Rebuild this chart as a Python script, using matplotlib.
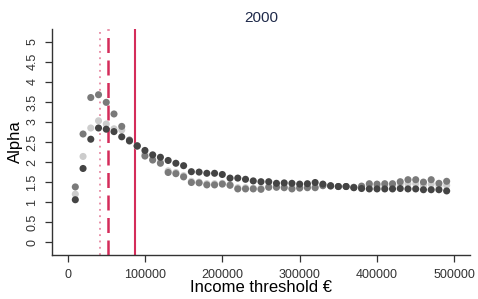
import matplotlib
matplotlib.use("Agg")
import matplotlib.pyplot as plt

plt.rcParams['font.family'] = ['Liberation Sans', 'DejaVu Sans']

# income thresholds (EUR)
thresholds = [10000, 20000, 30000, 40000, 50000, 60000, 70000, 80000, 90000, 100000,
              110000, 120000, 130000, 140000, 150000, 160000, 170000, 180000, 190000, 200000,
              210000, 220000, 230000, 240000, 250000, 260000, 270000, 280000, 290000, 300000,
              310000, 320000, 330000, 340000, 350000, 360000, 370000, 380000, 390000, 400000,
              410000, 420000, 430000, 440000, 450000, 460000, 470000, 480000, 490000]

alpha_light = [1.20, 2.14, 2.85, 3.03, 2.95, 2.83, 2.80, 2.52, 2.39, 2.20,
               2.08, 2.00, 1.78, 1.74, 1.66, 1.52, 1.50, 1.46, 1.46, 1.47,
               1.44, 1.36, 1.36, 1.35, 1.35, 1.39, 1.39, 1.38, 1.36, 1.37,
               1.38, 1.38, 1.42, 1.41, 1.39, 1.39, 1.37, 1.38, 1.41, 1.40,
               1.41, 1.41, 1.44, 1.46, 1.46, 1.42, 1.45, 1.40, 1.42]

alpha_medium = [1.38, 2.70, 3.61, 3.68, 3.49, 3.20, 2.89, 2.55, 2.41, 2.15,
                2.05, 1.97, 1.74, 1.71, 1.63, 1.49, 1.48, 1.43, 1.43, 1.45,
                1.42, 1.33, 1.33, 1.33, 1.32, 1.37, 1.37, 1.36, 1.33, 1.35,
                1.36, 1.36, 1.41, 1.40, 1.39, 1.39, 1.37, 1.40, 1.46, 1.45,
                1.46, 1.46, 1.51, 1.56, 1.56, 1.50, 1.56, 1.47, 1.52]

alpha_dark = [1.06, 1.84, 2.57, 2.85, 2.82, 2.76, 2.63, 2.53, 2.40, 2.29,
              2.18, 2.12, 2.04, 1.97, 1.91, 1.76, 1.75, 1.72, 1.72, 1.69,
              1.60, 1.60, 1.57, 1.53, 1.51, 1.51, 1.47, 1.48, 1.47, 1.45,
              1.46, 1.49, 1.45, 1.41, 1.39, 1.39, 1.36, 1.34, 1.33, 1.33,
              1.33, 1.33, 1.34, 1.33, 1.33, 1.31, 1.31, 1.31, 1.28]

vlines = [41600, 51700, 86900]
vline_styles = [(0, (1, 2.5)), (0, (6, 3)), '-']
vline_colors = ['#e88aa4', '#d42c5a', '#d42c5a']
vline_widths = [1.3, 1.8, 1.5]

x_ticks = [0, 100000, 200000, 300000, 400000, 500000]
y_ticks = [0, 0.5, 1, 1.5, 2, 2.5, 3, 3.5, 4, 4.5, 5]
y_labels = ['0', '0.5', '1', '1.5', '2', '2.5', '3', '3.5', '4', '4.5', '5']

fig = plt.figure(figsize=(4.78, 2.99), dpi=100)
ax = fig.add_axes([0.109, 0.147, 0.874, 0.756])

for xv, ls, c, lw in zip(vlines, vline_styles, vline_colors, vline_widths):
    ax.axvline(xv, linestyle=ls, color=c, linewidth=lw, zorder=1)

ax.scatter(thresholds, alpha_light, s=26, color='#cccccc', edgecolors='none', zorder=2)
ax.scatter(thresholds, alpha_medium, s=26, color='#7a7a7a', edgecolors='none', zorder=3)
ax.scatter(thresholds, alpha_dark, s=26, color='#444444', edgecolors='none', zorder=4)

ax.set_xlim(-20000, 520000)
ax.set_ylim(-0.32, 5.32)
ax.set_xticks(x_ticks)
ax.set_xticklabels([str(t) for t in x_ticks])
ax.set_yticks(y_ticks)
ax.set_yticklabels(y_labels, rotation=90, va='center')

for s in ['top', 'right']:
    ax.spines[s].set_visible(False)
for s in ['left', 'bottom']:
    ax.spines[s].set_color('#333333')
    ax.spines[s].set_linewidth(1.0)

ax.tick_params(axis='both', direction='out', length=5, width=0.9, color='#333333',
               labelsize=9, labelcolor='#333333', pad=5)

ax.set_xlabel('Income threshold \u20ac', fontsize=12, labelpad=-1)
ax.set_ylabel('Alpha', fontsize=12, labelpad=2)
ax.set_title('2000', fontsize=11, color='#1f2a4a', pad=5)

fig.savefig('out.png', dpi=100, facecolor='white')
